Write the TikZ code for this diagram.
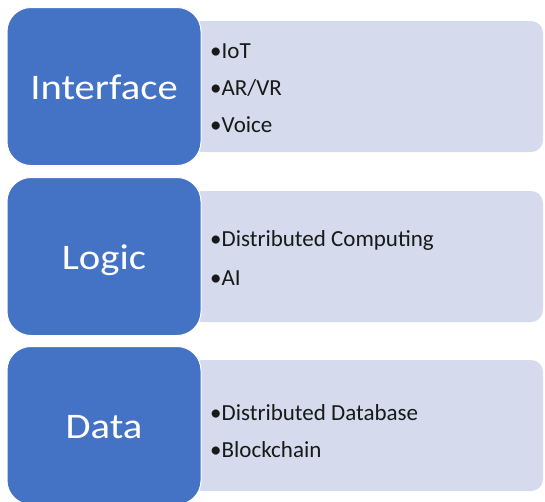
\documentclass[tikz,border=0pt]{standalone}
\usepackage{fontspec}
\setmainfont{Carlito}
\newfontfamily\titlefont{Carlito}[FakeStretch=1.13]
\usepackage{tikz}
\usetikzlibrary{positioning}

\definecolor{layerblue}{RGB}{68,114,196}
\definecolor{panelgrey}{RGB}{213,218,236}

\tikzset{
  layer/.style={draw=white, line width=1pt, fill=layerblue, rounded corners=24pt,
    minimum width=194pt, minimum height=158pt, outer sep=0pt, inner sep=0pt,
    text=white, font=\titlefont\fontsize{36}{40}\selectfont,
    text height=25pt, text depth=0pt},
  panel/.style={fill=panelgrey, rounded corners=12pt, minimum width=353pt,
    minimum height=131pt, outer sep=0pt, inner sep=0pt},
  item/.style={anchor=base west, inner sep=0pt, text=black!90,
    font=\fontsize{23}{28}\selectfont}
}

\begin{document}
\begin{tikzpicture}[x=1pt,y=-1pt]
\useasboundingbox (0,0) rectangle (545,501);

% panels first, the layer boxes overlap them
\node[panel, anchor=west] (iface-list) at (190,86.5) {};
\node[panel, below=39pt of iface-list] (logic-list) {};
\node[panel, below=38pt of logic-list] (data-list) {};

\node[layer, left=-11pt of iface-list] (iface) {Interface};
\node[layer, left=-11pt of logic-list] (logic) {Logic};
\node[layer, left=-11pt of data-list] (data) {Data};

\node[item] (iot)   at ([xshift=20pt,yshift=28.2pt]iface-list.west) {•IoT};
\node[item] (arvr)  at ([yshift=-36.9pt]iot.base west) {•AR/VR};
\node[item] (voice) at ([yshift=-37.6pt]arvr.base west) {•Voice};

\node[item] (dcomp) at ([xshift=20pt,yshift=9.8pt]logic-list.west) {•Distributed Computing};
\node[item] (ai)    at ([yshift=-38.3pt]dcomp.base west) {•AI};

\node[item] (ddb)   at ([xshift=20pt,yshift=5.2pt]data-list.west) {•Distributed Database};
\node[item] (chain) at ([yshift=-37.5pt]ddb.base west) {•Blockchain};
\end{tikzpicture}
\end{document}
